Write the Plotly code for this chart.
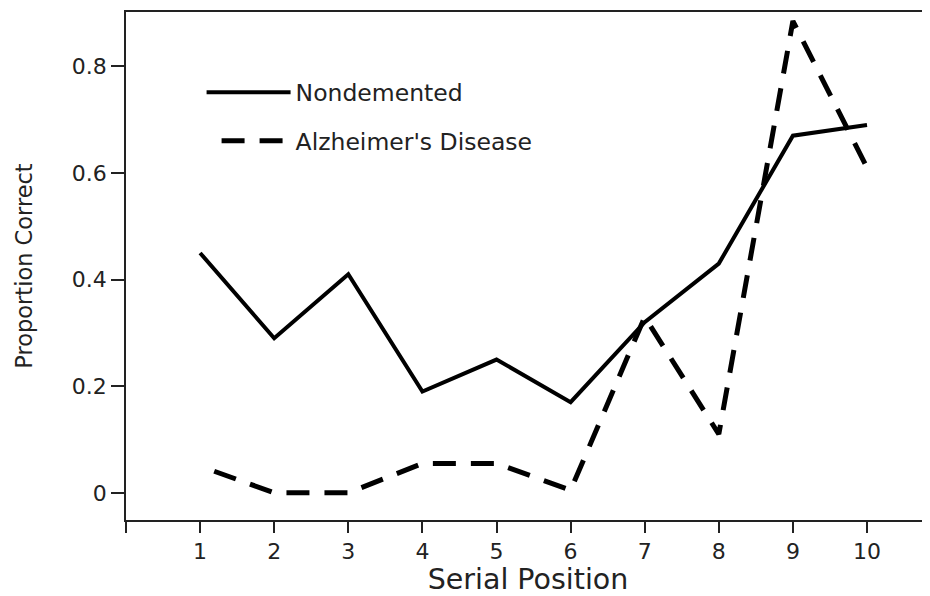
import plotly.graph_objects as go

# serial positions 1..10
positions = [1, 2, 3, 4, 5, 6, 7, 8, 9, 10]
nondemented = [0.45, 0.29, 0.41, 0.19, 0.25, 0.17, 0.32, 0.43, 0.67, 0.69]
alzheimers = [0.05, 0.0, 0.0, 0.055, 0.055, 0.005, 0.33, 0.11, 0.885, 0.61]

x_ticks = [0, 1, 2, 3, 4, 5, 6, 7, 8, 9, 10]
x_ticktext = ["", "1", "2", "3", "4", "5", "6", "7", "8", "9", "10"]
y_ticks = [0, 0.2, 0.4, 0.6, 0.8]
y_ticktext = ["0", "0.2", "0.4", "0.6", "0.8"]

FONT = "DejaVu Sans"

fig = go.Figure()

fig.add_scatter(
    x=positions, y=nondemented, mode="lines", name="Nondemented",
    legendgroup="a",
    line=dict(color="black", width=4),
)
fig.add_scatter(
    x=positions, y=alzheimers, mode="lines", name="Alzheimer's Disease",
    legendgroup="b",
    # start the pattern with a gap, like the original
    line=dict(color="black", width=5, dash="0px,15px,23px,0px"),
)

axis_common = dict(
    showgrid=False, zeroline=False, showline=True,
    linecolor="#222", linewidth=1.5,
    ticks="outside", tickcolor="#222", tickwidth=1.5,
    tickfont=dict(family=FONT, size=22, color="#222"),
)

fig.update_xaxes(
    **axis_common,
    range=[0, 10.85], tickvals=x_ticks, ticktext=x_ticktext,
    ticklen=11, mirror=True,
    title=dict(text="Serial Position", font=dict(family=FONT, size=28.5, color="#222"), standoff=20),
)
fig.update_yaxes(
    **axis_common,
    range=[-0.051, 0.902], tickvals=y_ticks, ticktext=y_ticktext,
    ticklen=13, ticklabelstandoff=0,
    title=dict(text="Proportion Correct", font=dict(family=FONT, size=22.5, color="#222"), standoff=33),
)

# the page body has an 8px margin, so the figure is 8px smaller and shifted
fig.update_layout(
    width=922, height=588,
    margin=dict(l=118, r=0, t=4, b=76, autoexpand=False),
    plot_bgcolor="white", paper_bgcolor="white",
    showlegend=True,
    legend=dict(
        x=0.094, y=0.885, xanchor="left", yanchor="top",
        bgcolor="rgba(0,0,0,0)", itemwidth=84, tracegroupgap=15,
        font=dict(family=FONT, size=23.5, color="#222"),
    ),
)

fig.write_html("out.html")
